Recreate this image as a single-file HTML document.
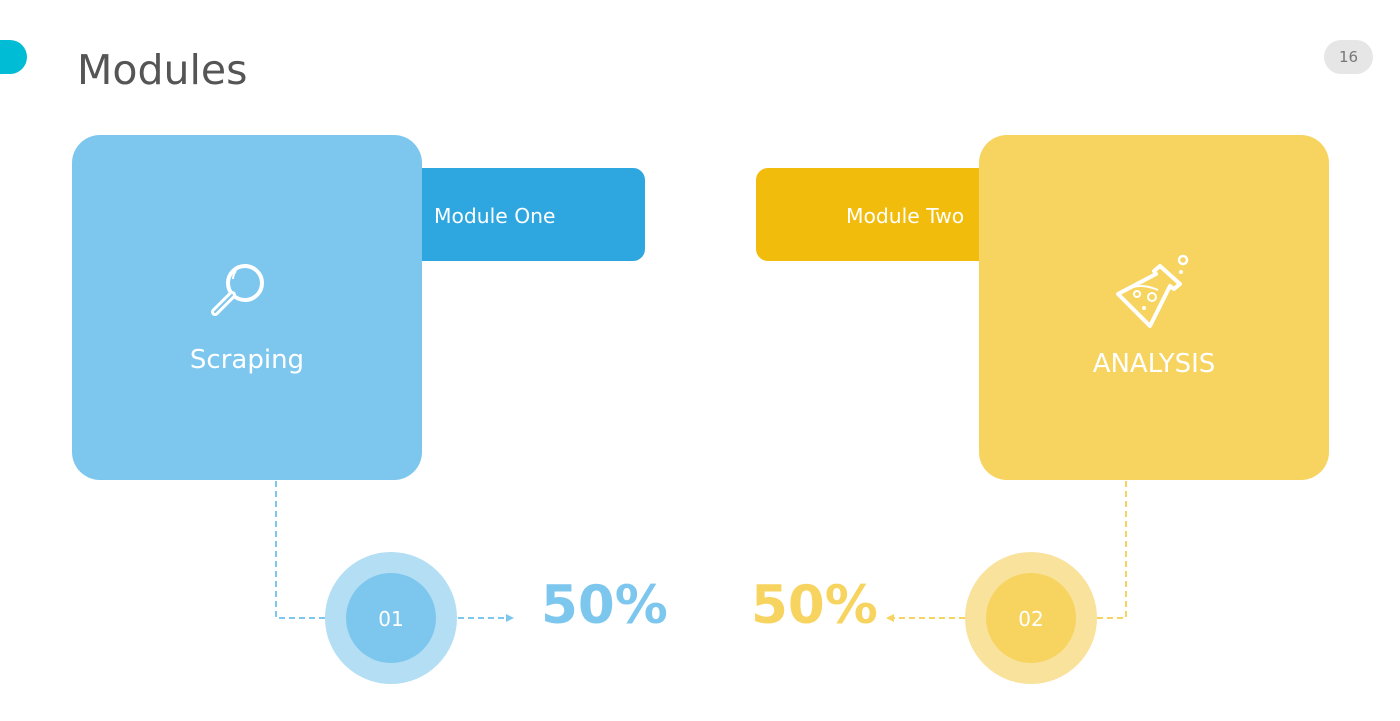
<!DOCTYPE html>
<html><head><meta charset="utf-8"><style>
body{margin:0;width:1400px;height:721px;background:#fff;position:relative;overflow:hidden;font-family:"DejaVu Sans","Liberation Sans",sans-serif}
div{position:absolute;box-sizing:border-box}
.t{color:#fff;white-space:nowrap}
</style></head><body>
<div style="left:-10px;top:40px;width:37px;height:34px;background:#00bcd4;border-radius:0 17px 17px 0"></div>
<div style="left:77px;top:46px;font-size:41px;color:#555">Modules</div>
<div style="left:1324px;top:40px;width:49px;height:34px;background:#e6e6e6;border-radius:17px;color:#777;font-size:15px;text-align:center;line-height:34px">16</div>

<div style="left:400px;top:168px;width:245px;height:93px;background:#2ea7e0;border-radius:12px"></div>
<div class="t" style="left:434px;top:204px;font-size:20.3px">Module One</div>
<div style="left:72px;top:135px;width:350px;height:345px;background:#7dc7ee;border-radius:28px"></div>
<svg style="position:absolute;left:205px;top:258px" width="70" height="64" viewBox="0 0 70 64"><circle cx="40" cy="25" r="17" fill="none" stroke="#fff" stroke-width="4"/><path d="M31 13 a13 13 0 0 0 -3 8" fill="none" stroke="#fff" stroke-width="2"/><path d="M27 37 L10 54" stroke="#fff" stroke-width="8" stroke-linecap="round"/><path d="M27 37 L10 54" stroke="#7dc7ee" stroke-width="2" stroke-linecap="round"/></svg>
<div class="t" style="left:147px;width:200px;text-align:center;top:345px;font-size:26px">Scraping</div>

<div style="left:756px;top:168px;width:245px;height:93px;background:#f2bc0c;border-radius:12px"></div>
<div class="t" style="left:846px;top:204px;font-size:20.3px">Module Two</div>
<div style="left:979px;top:135px;width:350px;height:345px;background:#f7d460;border-radius:28px"></div>
<svg style="position:absolute;left:1110px;top:252px" width="85" height="80" viewBox="0 0 85 80"><g fill="none" stroke="#fff" stroke-width="4" stroke-linejoin="round"><path d="M50 14 L70 32 L64 37 L60 34 L40 74 L8 42 L46 22 L44 19 Z"/><circle cx="73" cy="8" r="4" stroke-width="2.5"/><circle cx="27" cy="42" r="3" stroke-width="2"/><circle cx="42" cy="45" r="4" stroke-width="2"/><path d="M15 38 Q30 30 48 38" stroke-width="2"/></g><circle cx="71" cy="20" r="2" fill="#fff"/><circle cx="34" cy="56" r="2" fill="#fff"/></svg>
<div class="t" style="left:1054px;width:200px;text-align:center;top:349px;font-size:26px">ANALYSIS</div>

<svg style="position:absolute;left:0;top:0" width="1400" height="721">
<g fill="none" stroke-width="2" stroke-dasharray="6,4">
<path d="M276 481 V618 H325" stroke="#7dc7ee"/><path d="M458 618 H508" stroke="#7dc7ee"/>
<path d="M1126 481 V618 H1097" stroke="#f7d460"/><path d="M965 618 H892" stroke="#f7d460"/></g>
<path d="M514 618 L506 614 L506 622 Z" fill="#7dc7ee"/><path d="M886 618 L894 614 L894 622 Z" fill="#f7d460"/>
<circle cx="391" cy="618" r="66" fill="#b3def3"/><circle cx="391" cy="618" r="45" fill="#7dc7ee"/>
<circle cx="1031" cy="618" r="66" fill="#f9e29c"/><circle cx="1031" cy="618" r="45" fill="#f7d460"/>
</svg>
<div class="t" style="left:351px;width:80px;text-align:center;top:607px;font-size:20px">01</div>
<div class="t" style="left:991px;width:80px;text-align:center;top:607px;font-size:20px">02</div>
<div style="left:541px;top:575px;font-size:53px;font-weight:bold;color:#7dc7ee">50%</div>
<div style="left:751px;top:575px;font-size:53px;font-weight:bold;color:#f7d460">50%</div>
</body></html>
